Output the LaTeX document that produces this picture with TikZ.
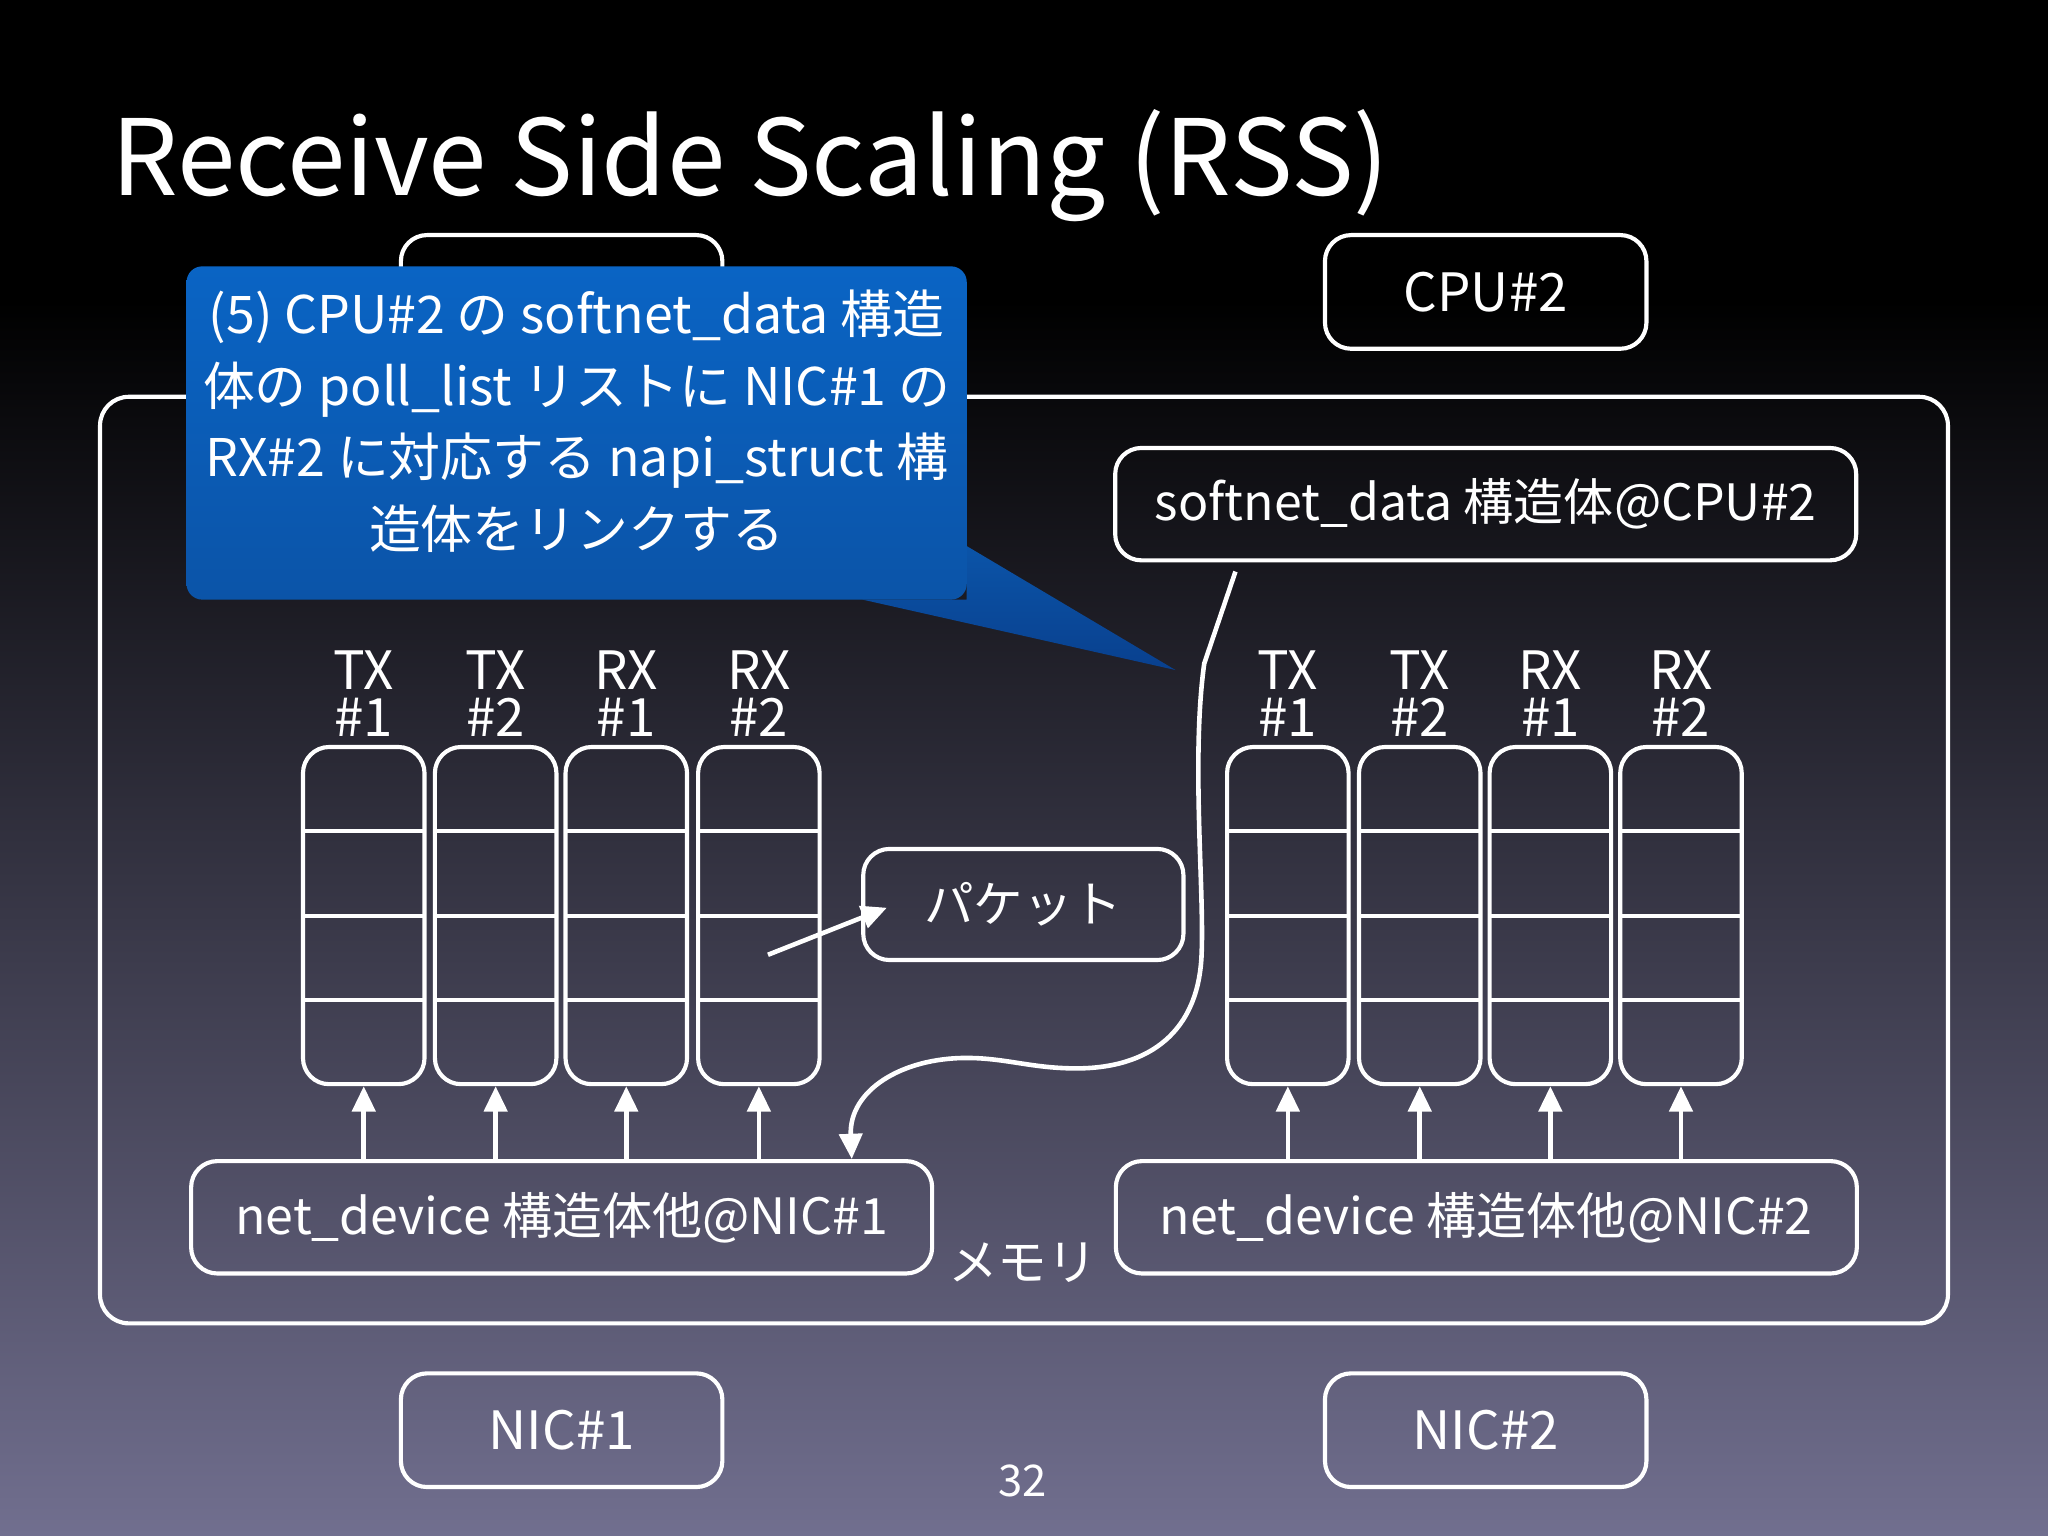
\documentclass[tikz,border=0pt]{standalone}
\usepackage{fontspec}
\setmainfont{Noto Sans CJK JP}
\usetikzlibrary{arrows.meta}

\definecolor{bgmid}{RGB}{50,50,100}
\definecolor{bgbot}{RGB}{113,111,143}
\definecolor{calltop}{RGB}{10,100,196}
\definecolor{callbot}{RGB}{11,84,168}
\definecolor{calltip}{RGB}{9,64,142}

\begin{document}
\begin{tikzpicture}[x=0.01cm, y=-0.01cm,
  every node/.style={font=\fontsize{11.5}{15.6}\selectfont, text=white},
  box/.style={draw=white, line width=0.9pt, rounded corners=0.2cm,
    minimum width=2.46cm, minimum height=0.87cm, inner sep=0pt},
  wide/.style={box, minimum width=5.67cm, minimum height=0.86cm,
    font=\fontsize{10.9}{13}\selectfont},
  queue/.style={box, minimum width=0.93cm, minimum height=2.58cm,
    path picture={\foreach \d in {0.645,1.29,1.935}
      \draw[white, line width=0.9pt]
        ([yshift=-\d cm]path picture bounding box.north west) --
        ([yshift=-\d cm]path picture bounding box.north east);}},
  qlbl/.style={align=center, inner sep=0pt, label distance=0.06cm,
    font=\fontsize{11.5}{10.2}\selectfont},
  note/.style={rounded corners=0.12cm, top color=calltop, bottom color=callbot,
    minimum width=5.97cm, minimum height=2.55cm, align=center, inner sep=0pt,
    text depth=0.21cm, font=\fontsize{11.3}{15.6}\selectfont},
  arr/.style={-{Triangle[length=5.5pt, width=5pt]}, draw=white, line width=1pt}
]
% background
\useasboundingbox (0,0) rectangle (1568,1176);
\fill[black] (0,0) rectangle (1568,1176);
\shade[top color=black, middle color=bgmid, bottom color=bgbot] (0,230) rectangle (1568,1176);

\node[anchor=base west, inner sep=0pt, font=\fontsize{22.9}{27}\selectfont] (title) at (85,150) {Receive Side Scaling (RSS)};

% memory, CPUs, NICs
\node[box, rounded corners=0.22cm, minimum width=14.14cm, minimum height=7.09cm] (mem) at (784,658.5) {};
\node[box] (cpu1) at (430,223.5) {};
\node[box] (cpu2) at (1137.5,223.5) {CPU\#2};
\node[box] (nic1) at (430,1095) {NIC\#1};
\node[box] (nic2) at (1137.5,1095) {NIC\#2};
\node[font=\fontsize{10.8}{13}\selectfont] (memlbl) at (783,967) {メモリ};
\node[font=\fontsize{9.5}{11}\selectfont] (page) at (783,1134) {32};

\node[wide] (sd) at (1137.5,386) {softnet\_data 構造体@CPU\#2};
\node[wide] (nd1) at (430,932) {net\_device 構造体他@NIC\#1};
\node[wide] (nd2) at (1138,932) {net\_device 構造体他@NIC\#2};
\node[box, minimum width=2.45cm, minimum height=0.85cm, font=\fontsize{10.8}{13}\selectfont] (pkt) at (783.5,692.5) {パケット};

% queues of NIC#1
\node[queue, label={[qlbl]above:TX\\\#1}] (qa1) at (278.5,701) {};
\node[queue, label={[qlbl]above:TX\\\#2}] (qa2) at (379.5,701) {};
\node[queue, label={[qlbl]above:RX\\\#1}] (qa3) at (479.5,701) {};
\node[queue, label={[qlbl]above:RX\\\#2}] (qa4) at (581,701) {};
% queues of NIC#2
\node[queue, label={[qlbl]above:TX\\\#1}] (qb1) at (986,701) {};
\node[queue, label={[qlbl]above:TX\\\#2}] (qb2) at (1087,701) {};
\node[queue, label={[qlbl]above:RX\\\#1}] (qb3) at (1187,701) {};
\node[queue, label={[qlbl]above:RX\\\#2}] (qb4) at (1287,701) {};

\draw[arr] (qa1 |- nd1.north) -- (qa1.south);
\draw[arr] (qa2 |- nd1.north) -- (qa2.south);
\draw[arr] (qa3 |- nd1.north) -- (qa3.south);
\draw[arr] (qa4 |- nd1.north) -- (qa4.south);
\draw[arr] (qb1 |- nd2.north) -- (qb1.south);
\draw[arr] (qb2 |- nd2.north) -- (qb2.south);
\draw[arr] (qb3 |- nd2.north) -- (qb3.south);
\draw[arr] (qb4 |- nd2.north) -- (qb4.south);

\coordinate (rxslot) at (588,731);
\coordinate (pktin) at (679,695);
\draw[arr] (rxslot) -- (pktin);

% poll_list link
\draw[arr] ([xshift=-1.915cm, yshift=-0.07cm]sd.south) -- (922,508)
  .. controls (912,580) and (922,680) .. (920,730)
  .. controls (918,790) and (880,818) .. (824,818)
  .. controls (790,818) and (770,810) .. (740,810)
  .. controls (690,810) and (650,835) .. ([xshift=2.22cm]nd1.north);

% callout
\coordinate (tailA) at (740,418);
\coordinate (tailB) at (660,459);
\coordinate (tailtip) at (900,513);
\shade[top color=callbot, bottom color=calltip] (tailA) -- (tailtip) -- (tailB) -- (740,459) -- cycle;
\node[note] (step5) at (441.5,331.5) {(5) CPU\#2 の softnet\_data 構造\\体の poll\_list リストに NIC\#1 の\\RX\#2 に対応する napi\_struct 構\\造体をリンクする};
\end{tikzpicture}
\end{document}
